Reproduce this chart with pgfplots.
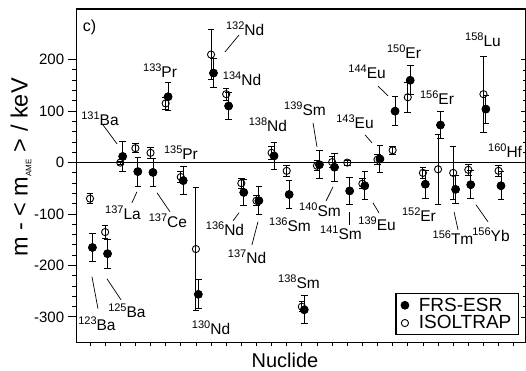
\documentclass[border=0pt]{standalone}
\usepackage{pgfplots}
\pgfplotsset{compat=1.18}
\usepackage{pgfplotstable}
\usepackage{fontspec}
\setmainfont{Liberation Sans}
\usetikzlibrary{calc}

\newcommand\nuc[2]{\raisebox{6pt}{\fontsize{11}{11}\selectfont #1}#2}

\pgfplotstableread{
k v e
1 -70 10
2 -135 12
3 0 3
4 28 9
5 19 11
6 115 12
7 -28 10
8 -168 120
9 210 48
10 133 12
11 -40 10
12 -74 10
13 19 12
14 -16 10
15 -280 10
16 -6 10
17 1 10
18 0 5
19 -41 10
20 6 10
21 24 8
22 127 29
23 -20 10
24 -13 68
25 -20 52
26 -14 10
27 133 74
28 -16 10
}\isol

\pgfplotstableread{
k v e
1.16 -165 28
2.16 -177 28
3.16 12 29
4.16 -17.5 28
5.16 -19 27
6.16 128 27
7.16 -35 27
8.16 -256 28
9.16 174 28
10.16 110 27
11.16 -58 26
12.16 -74 27
13.16 13 27
14.16 -62 28
15.16 -286 27
16.16 -4 27
17.16 -9 27
18.16 -55 26
19.16 -45 27
20.16 7 27
21.16 100 28
22.16 160 28
23.16 -42 27
24.16 73 27
25.16 -52 27
26.16 -43 27
27.16 104 27
28.16 -45 27
}\frs

\pgfplotsset{
  base/.style={
    scale only axis, width=448.8pt, height=333.7pt,
    xmin=0.121, xmax=29.78, ymin=-350, ymax=298.5,
    axis line style={line width=1.3pt},
  }
}

\begin{document}
\begin{tikzpicture}
\begin{axis}[base, name=ax,
  xtick=\empty,
  ytick={-300,-200,-100,0,100,200},
  minor y tick num=4,
  ytick pos=left, tick align=outside,
  major tick length=9pt, minor tick length=4.5pt,
  tick style={line width=1pt, black},
  /pgf/number format/assume math mode=true,
  yticklabel style={font=\fontsize{15}{15}\selectfont},
  xlabel={Nuclide},
  xlabel style={font=\fontsize{20}{20}\selectfont, at={(axis description cs:0.464,-0.052)}, anchor=center},
  ylabel={m - < m\textsubscript{\fontsize{8}{8}\selectfont AME} > / keV},
  ylabel style={font=\fontsize{23.5}{23.5}\selectfont, at={(axis description cs:-0.124,0.525)}, anchor=center},
  legend style={at={(0.9855,0.023)}, anchor=south east, draw=black, line width=1.2pt,
    font=\fontsize{19}{20}\selectfont, inner xsep=5pt, inner ysep=2pt,
    nodes={font=\fontsize{19}{20}\selectfont},
    /tikz/every odd column/.append style={column sep=8pt},
    row sep=-1pt, cells={anchor=west}},
  clip=false,
]
\draw[line width=1.7pt] (axis cs:0.121,0) -- (axis cs:29.78,0);
\addplot[only marks, mark=*, mark size=3.9pt, black, line width=0.9pt,
  error bars/.cd, y dir=both, y explicit,
  error mark options={rotate=90, mark size=3.3pt, line width=0.9pt},
  error bar style={line width=0.9pt}]
  table[x=k, y=v, y error=e] {\frs};
\addlegendentry{FRS-ESR}
\addplot[only marks, mark=o, mark size=3.6pt, black, line width=0.9pt, mark options={fill=white},
  error bars/.cd, y dir=both, y explicit,
  error mark options={rotate=90, mark size=3.3pt, line width=0.9pt},
  error bar style={line width=0.9pt}]
  table[x=k, y=v, y error=e] {\isol};
\addlegendentry{ISOLTRAP}
\addplot[only marks, mark=*, mark size=3.9pt, black, forget plot]
  table[x=k, y=v] {\frs};

\coordinate (bl) at (rel axis cs:0,0);
\coordinate (tr) at (rel axis cs:1,1);

\node[font=\fontsize{16}{16}\selectfont] at (rel axis cs:0.0285,0.9445) {c)};

\begin{scope}[font=\fontsize{15.5}{15.5}\selectfont]
\node at (axis cs:1.66,84.8) {\nuc{131}{Ba}};
\node at (axis cs:5.63,178) {\nuc{133}{Pr}};
\node at (axis cs:11.25,259.6) {\nuc{132}{Nd}};
\node at (axis cs:11.05,162.5) {\nuc{134}{Nd}};
\node at (axis cs:7.01,18.8) {\nuc{135}{Pr}};
\node at (axis cs:12.76,73.2) {\nuc{138}{Nd}};
\node at (axis cs:15.21,104.2) {\nuc{139}{Sm}};
\node at (axis cs:18.51,79) {\nuc{143}{Eu}};
\node at (axis cs:19.31,176) {\nuc{144}{Eu}};
\node at (axis cs:21.75,215) {\nuc{150}{Er}};
\node at (axis cs:23.93,125.6) {\nuc{156}{Er}};
\node at (axis cs:26.97,238) {\nuc{158}{Lu}};
\node at (axis cs:28.43,22.7) {\nuc{160}{Hf}};
\node at (axis cs:1.46,-313) {\nuc{123}{Ba}};
\node at (axis cs:3.44,-288) {\nuc{125}{Ba}};
\node at (axis cs:3.18,-97.7) {\nuc{137}{La}};
\node at (axis cs:6.15,-113) {\nuc{137}{Ce}};
\node at (axis cs:9.0,-321) {\nuc{130}{Nd}};
\node at (axis cs:9.92,-128.7) {\nuc{136}{Nd}};
\node at (axis cs:11.38,-183) {\nuc{137}{Nd}};
\node at (axis cs:14.22,-121) {\nuc{136}{Sm}};
\node at (axis cs:14.81,-231.6) {\nuc{138}{Sm}};
\node at (axis cs:16.2,-91.8) {\nuc{140}{Sm}};
\node at (axis cs:17.59,-136.5) {\nuc{141}{Sm}};
\node at (axis cs:19.97,-119) {\nuc{139}{Eu}};
\node at (axis cs:22.74,-101.5) {\nuc{152}{Er}};
\node at (axis cs:24.99,-146) {\nuc{156}{Tm}};
\node at (axis cs:27.5,-140) {\nuc{156}{Yb}};
\end{scope}

\begin{scope}[line width=0.7pt]
\draw (axis cs:1.86,73.2) -- (axis cs:2.79,36.3);
\draw (axis cs:10.85,248) -- (axis cs:9.92,215);
\draw (axis cs:15.74,77) -- (axis cs:16.0,30.5);
\draw (axis cs:19.18,53.8) -- (axis cs:19.64,38.2);
\draw (axis cs:20.03,148.8) -- (axis cs:20.7,129.5);
\draw (axis cs:1.13,-221.9) -- (axis cs:1.53,-284);
\draw (axis cs:2.12,-225.8) -- (axis cs:3.05,-266.6);
\draw (axis cs:4.1,-56.9) -- (axis cs:3.77,-78.2);
\draw (axis cs:5.43,-58.8) -- (axis cs:6.29,-95.7);
\draw (axis cs:10.85,-97.5) -- (axis cs:10.45,-113);
\draw (axis cs:12.1,-115) -- (axis cs:11.7,-160);
\draw (axis cs:17.06,-47.2) -- (axis cs:16.6,-74.4);
\draw (axis cs:18.12,-95.7) -- (axis cs:18.12,-121);
\draw (axis cs:19.7,-78.3) -- (axis cs:20.1,-97.7);
\draw (axis cs:25.06,-95.7) -- (axis cs:25.32,-130.7);
\draw (axis cs:26.51,-82) -- (axis cs:27.3,-115);
\end{scope}
\end{axis}

% bottom x ticks, outside
\begin{axis}[base,
  xtick={1,...,29}, xticklabels={}, ytick=\empty,
  xtick pos=left, tick align=outside,
  major tick length=3pt, tick style={line width=0.8pt, black},
]
\end{axis}

% top and right ticks, inside
\begin{axis}[base,
  xtick=\empty, minor xtick={1,...,29},
  ytick={-300,-200,-100,0,100,200}, yticklabels={}, minor y tick num=4,
  xtick pos=right, ytick pos=right, tick align=inside,
  major tick length=5pt, minor tick length=3pt,
  tick style={line width=0.8pt, black},
]
\end{axis}

\pgfresetboundingbox
\useasboundingbox ($(bl)+(-76.7pt,-27.3pt)$) rectangle ($(tr)+(0.5pt,9pt)$);
\end{tikzpicture}
\end{document}
